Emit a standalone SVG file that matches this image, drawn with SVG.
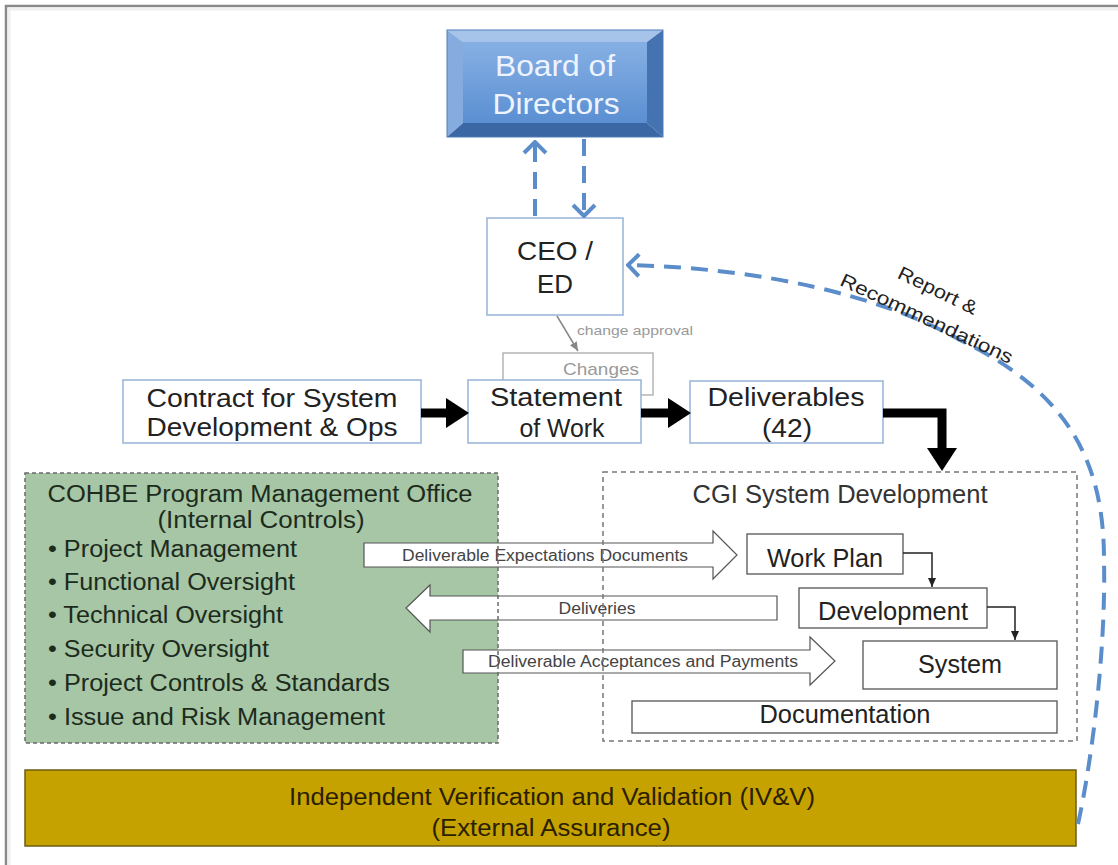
<svg xmlns="http://www.w3.org/2000/svg" width="1118" height="865" viewBox="0 0 1118 865" font-family="'Liberation Sans', Arial, sans-serif">
<defs>
<style>
text{font-family:"Liberation Sans",Arial,sans-serif;fill:#222}
.box{fill:#fff;stroke:#95b3d7;stroke-width:1.5}
.sub{fill:#fff;stroke:#555;stroke-width:1.3}
.blk{fill:#fff;stroke:#555;stroke-width:1.2}
.big{stroke:#000;stroke-width:9;fill:none}
.thin{stroke:#222;stroke-width:1.5;fill:none}
.blue{stroke:#5b8dcb;stroke-width:4;fill:none;stroke-dasharray:17 10}
.t25{font-size:25px}
.t22{font-size:23px}
.t16{font-size:16px}
</style>
<linearGradient id="face" x1="0" y1="0" x2="0" y2="1">
<stop offset="0" stop-color="#86b0e4"/>
<stop offset="1" stop-color="#5b8fd2"/>
</linearGradient>
<marker id="bigHead" markerUnits="userSpaceOnUse" viewBox="0 -16 24 32" markerWidth="24" markerHeight="32" refX="0" refY="0" orient="auto">
<path d="M0,-15 L23,0 L0,15 Z" fill="#000"/>
</marker>
<marker id="thinHead" markerUnits="userSpaceOnUse" viewBox="0 -5 9 10" markerWidth="9" markerHeight="10" refX="9" refY="0" orient="auto">
<path d="M0,-4 L9,0 L0,4 Z" fill="#222"/>
</marker>
<marker id="grayHead" markerUnits="userSpaceOnUse" viewBox="0 -5 9 10" markerWidth="9" markerHeight="10" refX="9" refY="0" orient="auto">
<path d="M0,-4 L9,0 L0,4 Z" fill="#888"/>
</marker>
<marker id="chev" markerUnits="userSpaceOnUse" viewBox="-15 -14 17 28" markerWidth="17" markerHeight="28" refX="0" refY="0" orient="auto">
<path d="M-11,-11 L0,0 L-11,11" fill="none" stroke="#5b8dcb" stroke-width="4"/>
</marker>
</defs>
<rect width="1118" height="865" fill="#fff"/>
<path d="M6,865 V6 H1118" fill="none" stroke="#8a8a8a" stroke-width="2.5"/>
<path d="M9,865 V9 H1118" fill="none" stroke="#f0f0f0" stroke-width="3"/>

<g id="board">
<polygon points="447,30 663,30 647,42 463,42" fill="#a6c4ea"/>
<polygon points="447,30 463,42 463,123 447,137" fill="#86acdf"/>
<polygon points="663,30 663,137 647,123 647,42" fill="#4572b0"/>
<polygon points="447,137 663,137 647,123 463,123" fill="#3b67a4"/>
<rect x="463" y="42" width="184" height="81" fill="url(#face)"/>
<rect x="447" y="30" width="216" height="107" fill="none" stroke="#4f7db8" stroke-width="1"/>
<text x="555" y="76" text-anchor="middle" font-size="29" style="fill:#eef4ff" textLength="120" lengthAdjust="spacingAndGlyphs">Board of</text>
<text x="556" y="114" text-anchor="middle" font-size="29" style="fill:#eef4ff" textLength="127" lengthAdjust="spacingAndGlyphs">Directors</text>
</g>

<g id="ceo">
<rect class="box" x="487" y="218" width="136" height="97"/>
<text class="t25" x="555" y="260" text-anchor="middle" textLength="76" lengthAdjust="spacingAndGlyphs">CEO /</text>
<text class="t25" x="555" y="293" text-anchor="middle" textLength="36" lengthAdjust="spacingAndGlyphs">ED</text>
</g>

<g id="changes">
<rect x="503" y="353" width="150" height="42" fill="#fff" stroke="#aaa" stroke-width="1.3"/>
<text x="601" y="375" text-anchor="middle" font-size="17" style="fill:#999" textLength="76" lengthAdjust="spacingAndGlyphs">Changes</text>
</g>

<g id="contract">
<rect class="box" x="123" y="380" width="298" height="63"/>
<text class="t25" x="272" y="407" text-anchor="middle" textLength="251" lengthAdjust="spacingAndGlyphs">Contract for System</text>
<text class="t25" x="272" y="436" text-anchor="middle" textLength="251" lengthAdjust="spacingAndGlyphs">Development &amp; Ops</text>
</g>

<g id="sow">
<rect class="box" x="468" y="380" width="173" height="63"/>
<text class="t25" x="556" y="406" text-anchor="middle" textLength="132" lengthAdjust="spacingAndGlyphs">Statement</text>
<text class="t25" x="562" y="437" text-anchor="middle" textLength="85" lengthAdjust="spacingAndGlyphs">of Work</text>
</g>

<g id="deliverables">
<rect class="box" x="690" y="381" width="193" height="62"/>
<text class="t25" x="786" y="406" text-anchor="middle" textLength="157" lengthAdjust="spacingAndGlyphs">Deliverables</text>
<text class="t25" x="787" y="437" text-anchor="middle" textLength="50" lengthAdjust="spacingAndGlyphs">(42)</text>
</g>

<g id="pmo-fill">
<rect x="25" y="473" width="473" height="270" fill="#a6c6a5"/>
</g>
<g id="cgi-fill">
<rect x="603" y="472" width="474" height="269" fill="#fff"/>
</g>

<g id="workplan">
<rect class="sub" x="747" y="534" width="156" height="40"/>
<text class="t25" x="825" y="567" text-anchor="middle" textLength="116" lengthAdjust="spacingAndGlyphs">Work Plan</text>
</g>
<g id="development">
<rect class="sub" x="799" y="588" width="188" height="40"/>
<text class="t25" x="893" y="620" text-anchor="middle" textLength="150" lengthAdjust="spacingAndGlyphs">Development</text>
</g>
<g id="system">
<rect class="sub" x="863" y="641" width="194" height="48"/>
<text class="t25" x="960" y="673" text-anchor="middle" textLength="84" lengthAdjust="spacingAndGlyphs">System</text>
</g>
<g id="documentation">
<rect class="sub" x="632" y="701" width="425" height="32"/>
<text class="t25" x="845" y="723" text-anchor="middle" textLength="171" lengthAdjust="spacingAndGlyphs">Documentation</text>
</g>

<g id="flow-arrows">
<polygon class="blk" points="364,543 713,543 713,531 737,555 713,579 713,567 364,567"/>
<text class="t16" x="545" y="561" text-anchor="middle" style="fill:#444" textLength="286" lengthAdjust="spacingAndGlyphs">Deliverable Expectations Documents</text>
<polygon class="blk" points="777,596 430,596 430,585 406,608 430,632 430,620 777,620"/>
<text class="t16" x="597" y="614" text-anchor="middle" style="fill:#444" textLength="77" lengthAdjust="spacingAndGlyphs">Deliveries</text>
<polygon class="blk" points="463,650 810,650 810,637 835,661 810,685 810,673 463,673"/>
<text class="t16" x="643" y="667" text-anchor="middle" style="fill:#444" textLength="310" lengthAdjust="spacingAndGlyphs">Deliverable Acceptances and Payments</text>
</g>

<g id="pmo">
<rect x="25" y="473" width="473" height="270" fill="none" stroke="#6a6a6a" stroke-width="1.5" stroke-dasharray="4 3"/>
<g style="font-size:23px">
<text x="260" y="502" text-anchor="middle" style="fill:#1d2b1d" textLength="425" lengthAdjust="spacingAndGlyphs">COHBE Program Management Office</text>
<text x="261" y="528" text-anchor="middle" style="fill:#1d2b1d" textLength="207" lengthAdjust="spacingAndGlyphs">(Internal Controls)</text>
<text x="48" y="557" style="fill:#1d2b1d" textLength="249" lengthAdjust="spacingAndGlyphs">• Project Management</text>
<text x="48" y="590" style="fill:#1d2b1d" textLength="247" lengthAdjust="spacingAndGlyphs">• Functional Oversight</text>
<text x="48" y="623" style="fill:#1d2b1d" textLength="235" lengthAdjust="spacingAndGlyphs">• Technical Oversight</text>
<text x="48" y="657" style="fill:#1d2b1d" textLength="221" lengthAdjust="spacingAndGlyphs">• Security Oversight</text>
<text x="48" y="691" style="fill:#1d2b1d" textLength="342" lengthAdjust="spacingAndGlyphs">• Project Controls &amp; Standards</text>
<text x="48" y="725" style="fill:#1d2b1d" textLength="337" lengthAdjust="spacingAndGlyphs">• Issue and Risk Management</text>
</g>
</g>

<g id="cgi">
<rect x="603" y="472" width="474" height="269" fill="none" stroke="#777" stroke-width="1.5" stroke-dasharray="5 4"/>
<text class="t25" x="840" y="503" text-anchor="middle" style="fill:#333" textLength="295" lengthAdjust="spacingAndGlyphs">CGI System Development</text>
</g>

<g id="ivv">
<rect x="25" y="770" width="1051" height="76" fill="#c6a200" stroke="#6e5c10" stroke-width="1.5"/>
<text class="t22" x="552" y="805" text-anchor="middle" style="fill:#2a2000" textLength="526" lengthAdjust="spacingAndGlyphs">Independent Verification and Validation (IV&amp;V)</text>
<text class="t22" x="551" y="836" text-anchor="middle" style="fill:#2a2000" textLength="239" lengthAdjust="spacingAndGlyphs">(External Assurance)</text>
</g>

<g id="connectors">
<line class="blue" x1="535" y1="216" x2="535" y2="142" marker-end="url(#chev)"/>
<line class="blue" x1="584" y1="139" x2="584" y2="216" marker-end="url(#chev)"/>
<path class="blue" d="M1078,824 C1092,760 1106,650 1104,560 C1104,470 1075,395 960,340 C880,295 760,268 628,265" marker-end="url(#chev)"/>
<line x1="557" y1="316" x2="578" y2="351" stroke="#888" stroke-width="1.5" marker-end="url(#grayHead)"/>
<line class="big" x1="421" y1="413" x2="446" y2="413" marker-end="url(#bigHead)"/>
<line class="big" x1="641" y1="413" x2="668" y2="413" marker-end="url(#bigHead)"/>
<path class="big" d="M883,413 H942 V448" marker-end="url(#bigHead)"/>
<path class="thin" d="M903,553 H932 V587" marker-end="url(#thinHead)"/>
<path class="thin" d="M987,607 H1015 V640" marker-end="url(#thinHead)"/>
</g>

<g id="labels">
<text x="635" y="335" text-anchor="middle" font-size="13" style="fill:#999" textLength="116" lengthAdjust="spacingAndGlyphs">change approval</text>
<text transform="translate(938,290) rotate(26)" x="0" y="7" text-anchor="middle" font-size="19" textLength="86" lengthAdjust="spacingAndGlyphs">Report &amp;</text>
<text transform="translate(927,318) rotate(25)" x="0" y="7" text-anchor="middle" font-size="19" textLength="188" lengthAdjust="spacingAndGlyphs">Recommendations</text>
</g>
</svg>
